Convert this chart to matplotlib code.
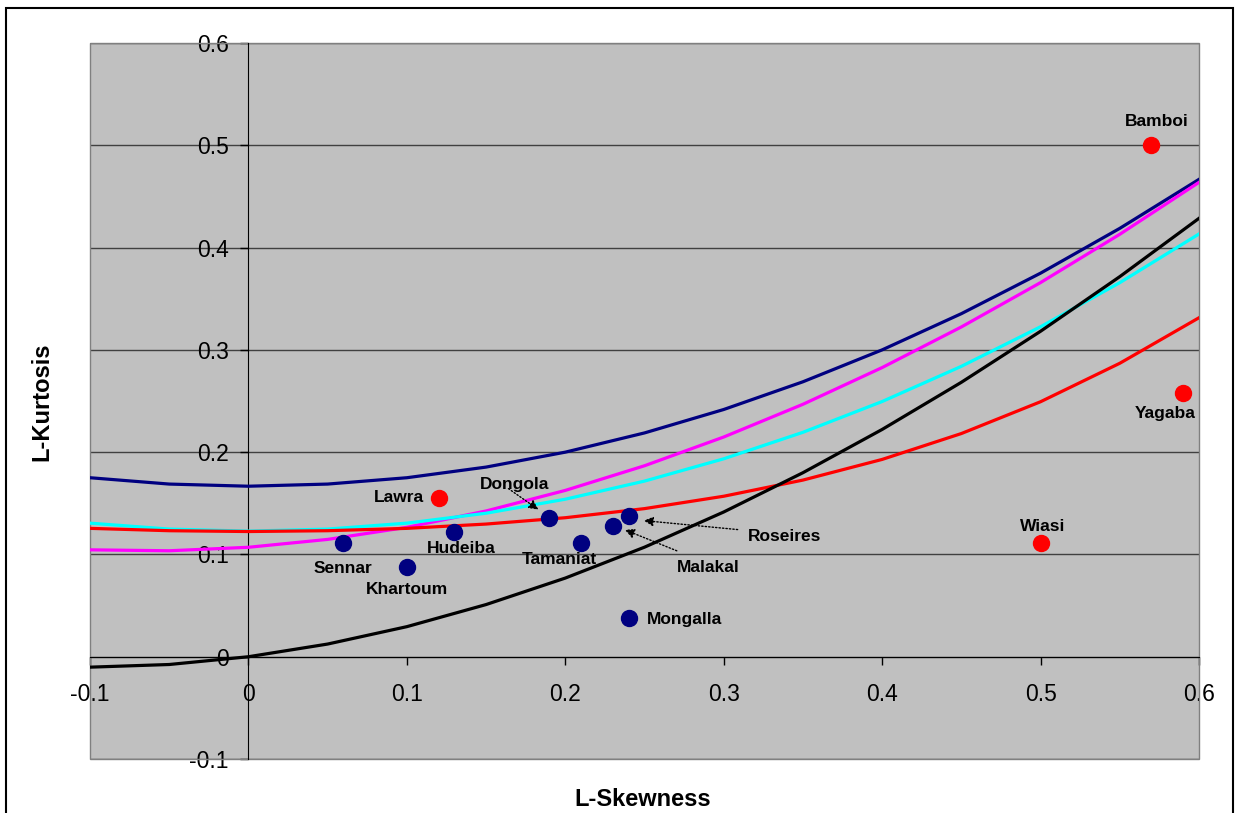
import matplotlib
matplotlib.use('Agg')
import matplotlib.pyplot as plt
from matplotlib.transforms import offset_copy
from matplotlib.patches import Rectangle

plt.rcParams['font.family'] = ['Liberation Sans', 'DejaVu Sans']

# theoretical L-moment ratio curves (tau3 -> tau4)
tau3 = [-0.1, -0.05, 0.0, 0.05, 0.1, 0.15, 0.2, 0.25, 0.3, 0.35, 0.4, 0.45, 0.5, 0.55, 0.6]
glo = [0.1750, 0.1688, 0.1667, 0.1688, 0.1750, 0.1854, 0.2000, 0.2188, 0.2417, 0.2688,
       0.3000, 0.3354, 0.3750, 0.4188, 0.4667]
gev = [0.1045, 0.1036, 0.1070, 0.1147, 0.1265, 0.1425, 0.1626, 0.1867, 0.2148, 0.2468,
       0.2827, 0.3224, 0.3658, 0.4130, 0.4638]
gno = [0.1306, 0.1248, 0.1228, 0.1248, 0.1306, 0.1403, 0.1540, 0.1717, 0.1935, 0.2194,
       0.2495, 0.2839, 0.3226, 0.3657, 0.4133]
pe3 = [0.1255, 0.1232, 0.1224, 0.1232, 0.1255, 0.1297, 0.1359, 0.1448, 0.1569, 0.1727,
       0.1929, 0.2182, 0.2493, 0.2869, 0.3314]
gpa = [-0.0102, -0.0076, 0.0, 0.0124, 0.0294, 0.0510, 0.0769, 0.1071, 0.1415, 0.1799,
       0.2222, 0.2683, 0.3182, 0.3716, 0.4286]

# sample L-moment ratios of the stations
sudan_names = ['Sennar', 'Khartoum', 'Hudeiba', 'Dongola', 'Tamaniat', 'Malakal', 'Roseires', 'Mongalla']
sudan_t3 = [0.06, 0.10, 0.13, 0.19, 0.21, 0.23, 0.24, 0.24]
sudan_t4 = [0.111, 0.088, 0.122, 0.136, 0.111, 0.128, 0.138, 0.038]
ghana_names = ['Lawra', 'Bamboi', 'Yagaba', 'Wiasi']
ghana_t3 = [0.12, 0.57, 0.59, 0.50]
ghana_t4 = [0.155, 0.50, 0.258, 0.111]

ticks = [-0.1, 0.0, 0.1, 0.2, 0.3, 0.4, 0.5, 0.6]
tick_labels = ['-0.1', '0', '0.1', '0.2', '0.3', '0.4', '0.5', '0.6']

# label placement in pixels relative to the marker (dx, dy, ha)
label_pos = {
    'Sennar': (-1, -30, 'center'), 'Khartoum': (0, -27, 'center'),
    'Hudeiba': (7, -21, 'center'), 'Dongola': (-35, 29, 'center'),
    'Tamaniat': (-22, -21, 'center'), 'Malakal': (95, -46, 'center'),
    'Roseires': (156, -25, 'center'), 'Mongalla': (18, -6, 'left'),
    'Lawra': (-15, -4, 'right'), 'Bamboi': (5, 19, 'center'),
    'Yagaba': (-18, -25, 'center'), 'Wiasi': (2, 12, 'center'),
}
# dotted leader arrows: (tail dx, tail dy, tip dx, tip dy) in pixels
arrows = {
    'Dongola': (-41, 29, -11, 8),
    'Roseires': (109, -14, 15, -5),
    'Malakal': (64, -25, 12, -4),
}

fig = plt.figure(figsize=(12.38, 8.13), dpi=100)
ax = fig.add_axes([0.0727, 0.0664, 0.8958, 0.8807])
ax.set_facecolor('#C0C0C0')
ax.set_xlim(-0.1, 0.6)
ax.set_ylim(-0.1, 0.6)

ax.plot(tau3, glo, color='#000080', lw=2.3, zorder=3)
ax.plot(tau3, gev, color='#FF00FF', lw=2.3, zorder=3)
ax.plot(tau3, gno, color='#00FFFF', lw=2.3, zorder=3)
ax.plot(tau3, pe3, color='#FF0000', lw=2.3, zorder=3)
ax.plot(tau3, gpa, color='black', lw=2.3, zorder=3)

ax.plot(sudan_t3, sudan_t4, 'o', color='#000080', ms=11.5, ls='none', zorder=5)
ax.plot(ghana_t3, ghana_t4, 'o', color='#FF0000', ms=11.5, ls='none', zorder=5)

points = dict(zip(sudan_names + ghana_names, zip(sudan_t3 + ghana_t3, sudan_t4 + ghana_t4)))
for name, (x, y) in points.items():
    dx, dy, ha = label_pos[name]
    tr = offset_copy(ax.transData, fig=fig, x=dx, y=dy, units='dots')
    ax.text(x, y, name, transform=tr, ha=ha, va='baseline', fontsize=12.5,
            fontweight='bold', zorder=6)

for name, (tx, ty, hx, hy) in arrows.items():
    x, y = points[name]
    ax.annotate('', xy=(x, y), xycoords=offset_copy(ax.transData, fig=fig, x=hx, y=hy, units='dots'),
                xytext=(x, y), textcoords=offset_copy(ax.transData, fig=fig, x=tx, y=ty, units='dots'),
                arrowprops=dict(arrowstyle='-|>', color='black', lw=1, ls=(0, (1, 1.5)),
                                mutation_scale=14, shrinkA=0, shrinkB=0),
                zorder=6)

# axes crossing at the origin
for side in ('top', 'right'):
    ax.spines[side].set_visible(False)
ax.spines['left'].set_position(('data', 0))
ax.spines['bottom'].set_position(('data', 0))
ax.spines['left'].set_zorder(2)
ax.spines['bottom'].set_zorder(2)
ax.add_patch(Rectangle((0, 0), 1, 1, transform=ax.transAxes, fill=False,
                       edgecolor='#808080', lw=1, zorder=0.6, clip_on=False))

ax.set_xticks(ticks)
ax.set_xticklabels(tick_labels)
ax.set_yticks(ticks)
ax.set_yticklabels(tick_labels)
ax.tick_params(axis='both', direction='out', length=6, width=1, labelsize=16.5)
ax.tick_params(axis='y', pad=8)
ax.tick_params(axis='x', pad=13)
ax.yaxis.grid(True, color='#404040', lw=1)
ax.set_axisbelow(True)

fig.text(0.519, 0.008, 'L-Skewness', ha='center', va='baseline', fontsize=17, fontweight='bold')
fig.text(0.034, 0.506, 'L-Kurtosis', ha='center', va='center', rotation=90,
         fontsize=17, fontweight='bold')

# chart frame
fig.add_artist(Rectangle((6 / 1238, -0.05), 1227 / 1238, 805 / 813 + 0.05,
                         transform=fig.transFigure, fill=False, edgecolor='black', lw=1.5))

fig.savefig('out.png', dpi=100)
